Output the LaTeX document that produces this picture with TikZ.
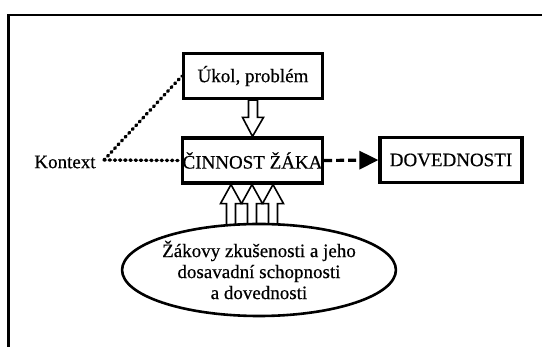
\documentclass[tikz,border=0pt]{standalone}
\usepackage{fontspec}
\setmainfont[FakeBold=0.5]{Liberation Serif}
\usetikzlibrary{arrows.meta,shapes.geometric,calc}
\begin{document}
\begin{tikzpicture}
		[	x=1pt,y=-1pt,
		box/.style={rectangle,draw=black,line width=3.2pt,minimum width=139pt,minimum height=45pt,inner sep=0pt,font=\fontsize{19}{21}\selectfont},
		plain/.style={draw=none,fill=none,inner sep=0pt,font=\fontsize{19}{21}\selectfont},
		dots/.style={line width=3.4pt,dash pattern=on 1.2pt off 4pt,line cap=round},
		hollow/.style={draw=black,line width=1.6pt,fill=white,to path={let \p1=(\tikztostart),\p2=(\tikztotarget),\p3=($(\tikztotarget)!19pt!(\tikztostart)$) in
			(\x1-4.5pt,\y1) -- (\x1-4.5pt,\y3) -- (\x1-10.5pt,\y3) -- (\x2,\y2) -- (\x1+10.5pt,\y3) -- (\x1+4.5pt,\y3) -- (\x1+4.5pt,\y1) -- cycle}}
		]
		\useasboundingbox (0,0) rectangle (542,347);
		\draw[line width=2.2pt] (8.5,347) -- (8.5,15) -- (542,15);

		\node[box] (ukol) at (253,76){Úkol, problém};
		\node[box] (cinnost) at (252.5,160.5){ČINNOST ŽÁKA};
		\node[box,minimum width=142pt] (dov) at (451,160){DOVEDNOSTI};
		\node[plain] (kontext) at (65,162){Kontext};
		\coordinate (kbod) at (104,160);

		\draw[dots] (kbod) -- (cinnost.west);
		\draw[dots] (kbod) -- (ukol.west);
		\draw[line width=3.2pt,dash pattern=on 8pt off 4pt,-{Triangle[length=19pt,width=18pt]}] (cinnost.east) -- (dov.west);

		\draw[hollow] (ukol.south) to (cinnost.north);
		\coordinate (z1) at (231,230);
		\coordinate (z2) at (252,230);
		\coordinate (z3) at (273,230);
		\draw[hollow] (z1) to (z1 |- cinnost.south);
		\draw[hollow] (z2) to (z2 |- cinnost.south);
		\draw[hollow] (z3) to (z3 |- cinnost.south);

		\node[plain,ellipse,draw=black,line width=2.6pt,fill=white,minimum width=216pt,minimum height=92pt,align=center] (zkus) at (259,270){Žákovy zkušenosti a jeho\\dosavadní schopnosti\\a dovednosti};
	\end{tikzpicture}
\end{document}
